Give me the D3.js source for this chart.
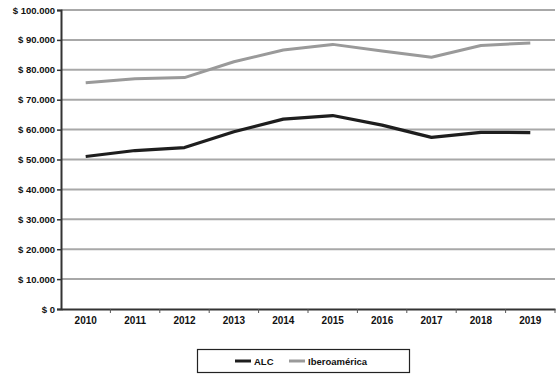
<!DOCTYPE html>
<html><head><meta charset="utf-8">
<script src="https://cdn.jsdelivr.net/npm/d3@7"></script>
<style>body{margin:0;background:#fff}svg{display:block}text{font-family:"Liberation Sans",Arial,sans-serif;font-weight:bold;fill:#111}</style>
</head><body>
<svg id="c" width="557" height="381"></svg>
<script>
const years = ["2010","2011","2012","2013","2014","2015","2016","2017","2018","2019"];
const alc = [51000, 53000, 54000, 59300, 63500, 64700, 61500, 57400, 59100, 59000];
const ibero = [75700, 77000, 77400, 82700, 86600, 88500, 86300, 84200, 88100, 89000];
const yTicks = [0,10000,20000,30000,40000,50000,60000,70000,80000,90000,100000];
const seriesNames = ["ALC","Iberoamérica"];

const svg = d3.select("#c");
const L = 61, R = 555, T = 10, B = 309;
const x = d3.scaleBand().domain(years).range([L, R]);
const y = d3.scaleLinear().domain([0, 100000]).range([B, T]);
const fmt = v => "$ " + (v === 0 ? "0" : d3.format(",")(v).replace(/,/g, "."));

// gridlines
svg.append("g").selectAll("line").data(yTicks.filter(d => d > 0)).join("line")
  .attr("x1", L).attr("x2", R).attr("y1", d => y(d)).attr("y2", d => y(d))
  .attr("stroke", "#a8a8a8").attr("stroke-width", 2);

// y axis
const ya = svg.append("g").attr("transform", `translate(${L},0)`)
  .call(d3.axisLeft(y).tickValues(yTicks).tickFormat(fmt).tickSize(4).tickPadding(2));
ya.select(".domain").attr("stroke", "#333").attr("stroke-width", 2);
ya.selectAll(".tick line").attr("stroke", "#333").attr("stroke-width", 1.5);
ya.selectAll("text").attr("font-size", 9.5).attr("fill", "#111");

// x axis
const xa = svg.append("g").attr("transform", `translate(0,${B})`)
  .call(d3.axisBottom(x).tickSize(0).tickPadding(8));
xa.select(".domain").attr("stroke", "#333").attr("stroke-width", 2);
xa.selectAll("text").attr("font-size", 10).attr("fill", "#111");
svg.append("g").selectAll("line").data(years.slice(1).concat(["end"])).join("line")
  .attr("x1", (d, i) => L + x.step() * (i + 1)).attr("x2", (d, i) => L + x.step() * (i + 1))
  .attr("y1", B).attr("y2", B + 4).attr("stroke", "#555").attr("stroke-width", 1);

const line = d3.line().x((d, i) => x(years[i]) + x.bandwidth() / 2).y(d => y(d));
svg.append("path").datum(ibero).attr("d", line).attr("fill", "none")
  .attr("stroke", "#9a9a9a").attr("stroke-width", 3).attr("stroke-linejoin", "round");
svg.append("path").datum(alc).attr("d", line).attr("fill", "none")
  .attr("stroke", "#1e1e1e").attr("stroke-width", 3.2).attr("stroke-linejoin", "round");

// legend
const lg = svg.append("g");
lg.append("rect").attr("x", 197.5).attr("y", 349.5).attr("width", 212).attr("height", 23)
  .attr("fill", "#fff").attr("stroke", "#222").attr("stroke-width", 1.2);
const cols = ["#1e1e1e", "#9a9a9a"];
const lx = [235, 289];
seriesNames.forEach((n, i) => {
  lg.append("line").attr("x1", lx[i]).attr("x2", lx[i] + 16).attr("y1", 361).attr("y2", 361)
    .attr("stroke", cols[i]).attr("stroke-width", 3);
  lg.append("text").attr("x", lx[i] + 19).attr("y", 364.5).attr("font-size", 9.5).text(n);
});
</script>
</body></html>
